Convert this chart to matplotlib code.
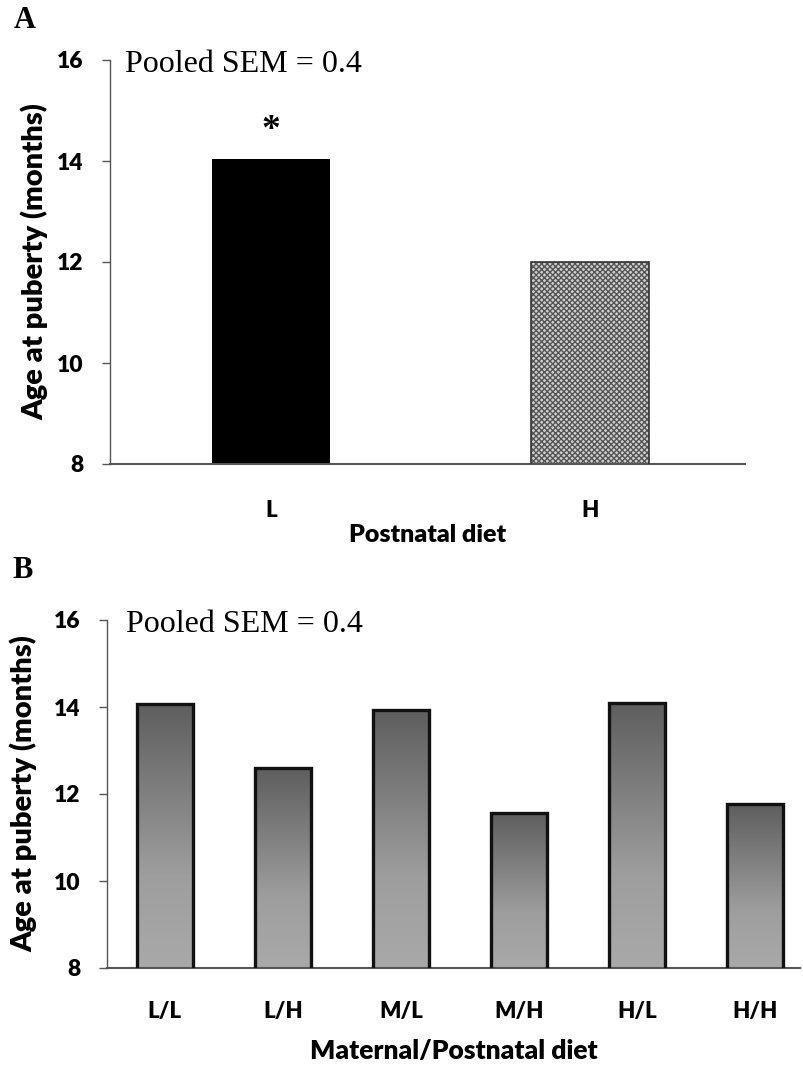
import matplotlib
matplotlib.use("Agg")
import matplotlib.pyplot as plt
import numpy as np
from matplotlib.colors import LinearSegmentedColormap

# Data
cats_a = ["L", "H"]
vals_a = [14.03, 12.0]
cats_b = ["L/L", "L/H", "M/L", "M/H", "H/L", "H/H"]
vals_b = [14.07, 12.6, 13.93, 11.56, 14.1, 11.77]
yticks = [8, 10, 12, 14, 16]

W, H = 804, 1067
fig = plt.figure(figsize=(W / 100, H / 100), dpi=100)

sans = ["Lato", "DejaVu Sans"]
serif = ["Liberation Serif", "DejaVu Serif"]
spine_col = "#555555"
bw = "heavy"

def px_axes(l, t, r, b):
    return fig.add_axes([l / W, 1 - b / H, (r - l) / W, (b - t) / H])

def style(ax):
    for s in ["top", "right"]:
        ax.spines[s].set_visible(False)
    ax.spines["left"].set_color(spine_col)
    ax.spines["bottom"].set_color(spine_col)
    ax.spines["left"].set_linewidth(1.0)
    ax.spines["bottom"].set_linewidth(1.5)
    ax.set_ylim(8, 16)
    ax.set_yticks(yticks)
    ax.tick_params(axis="y", direction="out", length=6, width=1.0, color=spine_col,
                   pad=13)
    ax.tick_params(axis="x", length=0)
    for lab in ax.get_yticklabels():
        lab.set_fontfamily(sans)
        lab.set_fontweight(bw)
        lab.set_fontsize(16.5)

# Panel A
axA = px_axes(110, 60, 745, 464)
xa = np.arange(len(cats_a))
barsA = axA.bar(xa, vals_a, width=0.37, bottom=0, color=["black", "#bdbdbd"],
                edgecolor="none", zorder=2)
barsA[0].set_facecolor("black")
plt.rcParams["hatch.linewidth"] = 0.8
barsA[1].set_facecolor("#d0d0d0")
barsA[1].set_hatch("xxxxxx")
barsA[1].set_edgecolor("#555555")
barsA[1].set_linewidth(0)
axA.bar(xa[1:], vals_a[1:], width=0.37, facecolor="none", edgecolor="#333333",
        linewidth=1.2, zorder=3)
axA.set_xlim(-0.505, 1.486)
style(axA)
axA.set_xticks(xa)
axA.set_xticklabels(cats_a, fontfamily=sans, fontweight=bw, fontsize=16)
axA.tick_params(axis="x", pad=26)
axA.set_xlabel("Postnatal diet", fontfamily=sans, fontweight=bw, fontsize=18,
               labelpad=2)
axA.set_ylabel("Age at puberty (months)", fontfamily=sans, fontweight=bw,
               fontsize=21, labelpad=6)
axA.text(0.024, 0.99, "Pooled SEM = 0.4", transform=axA.transAxes, ha="left",
         va="center", fontfamily=serif, fontsize=23)
axA.text(xa[0], vals_a[0] + 0.22, "*", ha="center", va="bottom",
         fontfamily=serif, fontsize=27, fontweight="bold")

# Panel B
axB = px_axes(107, 620, 800, 968)
xb = np.arange(len(cats_b))
barsB = axB.bar(xb, vals_b, width=0.47, facecolor="none", edgecolor="#111111",
                linewidth=2.4, zorder=3)
cmap = LinearSegmentedColormap.from_list(
    "g", [(0.0, "#5e5e5e"), (0.65, "#9e9e9e"), (1.0, "#a9a9a9")])
grad = np.linspace(0, 1, 256).reshape(-1, 1)
for b in barsB:
    x0, y0 = b.get_x(), b.get_y()
    w, h = b.get_width(), b.get_height()
    im = axB.imshow(grad, cmap=cmap, aspect="auto",
                    extent=[x0, x0 + w, 8, y0 + h], origin="upper", zorder=2)
    im.set_clip_path(b)
axB.set_xlim(-0.49, 5.38)
style(axB)
axB.set_ylim(8, 16)
axB.set_xticks(xb)
axB.set_xticklabels(cats_b, fontfamily=sans, fontweight=bw, fontsize=16)
axB.tick_params(axis="x", pad=24)
axB.set_xlabel("Maternal/Postnatal diet", fontfamily=sans, fontweight=bw,
               fontsize=19, labelpad=12)
axB.set_ylabel("Age at puberty (months)", fontfamily=sans, fontweight=bw,
               fontsize=21, labelpad=12)
axB.text(0.027, 0.988, "Pooled SEM = 0.4", transform=axB.transAxes, ha="left",
         va="center", fontfamily=serif, fontsize=23)

fig.text(14 / W, 1 - 21 / H, "A", fontfamily=serif, fontweight="bold", fontsize=22,
         va="center", ha="left")
fig.text(12 / W, 1 - 571 / H, "B", fontfamily=serif, fontweight="bold", fontsize=22,
         va="center", ha="left")

fig.savefig("out.png", dpi=100)
